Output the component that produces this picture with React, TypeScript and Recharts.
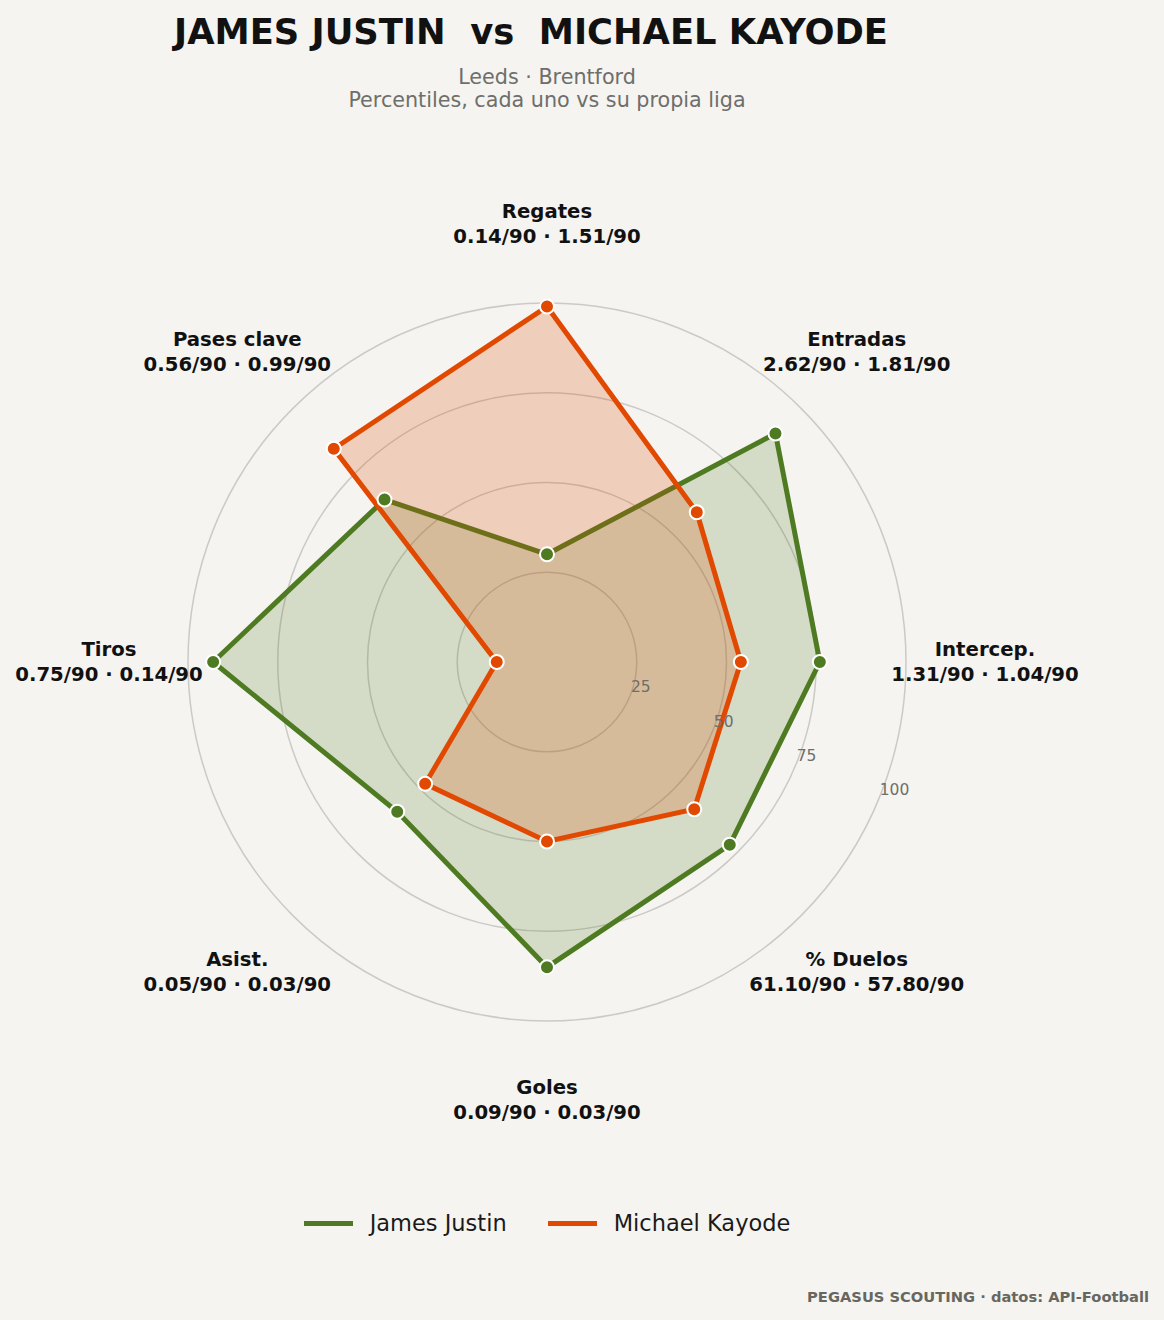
import React from "react";
import { RadarChart, Radar, PolarGrid, PolarAngleAxis, PolarRadiusAxis, Legend } from "recharts";

// Datos: percentiles y valores por 90'
const categories: string[] = ["Regates", "Entradas", "Intercep.", "% Duelos", "Goles", "Asist.", "Tiros", "Pases clave"];
const justinPct: number[] = [30, 90, 76, 72, 85, 59, 93, 64];
const kayodePct: number[] = [99, 59, 54, 58, 50, 48, 14, 84];
const justinPer90: string[] = ["0.14", "2.62", "1.31", "61.10", "0.09", "0.05", "0.75", "0.56"];
const kayodePer90: string[] = ["1.51", "1.81", "1.04", "57.80", "0.03", "0.03", "0.14", "0.99"];
const radiusTicks: number[] = [25, 50, 75, 100];

const GREEN = "#4e7a21";
const ORANGE = "#e14800";
const BG = "#f5f4f1";
const FONT = "'DejaVu Sans', sans-serif";

const W = 1164;
const H = 1320;
const CX = 547;
const CY = 662;
const R = 359;
const LABEL_R = 438;
const RAD = Math.PI / 180;

const data = categories.map((cat, i) => ({
  cat,
  justin: justinPct[i],
  kayode: kayodePct[i],
}));

const AngleTick = (props: any) => {
  const { payload } = props;
  const angle = payload.coordinate;
  const i = categories.indexOf(payload.value);
  const x = CX + LABEL_R * Math.cos(-angle * RAD);
  const y = CY + LABEL_R * Math.sin(-angle * RAD);
  return (
    <text x={x} y={y} textAnchor="middle" fontFamily={FONT} fontWeight="bold" fontSize={19.7} fill="#111">
      <tspan x={x} dy={-6}>{payload.value}</tspan>
      <tspan x={x} dy={25}>{`${justinPer90[i]}/90 · ${kayodePer90[i]}/90`}</tspan>
    </text>
  );
};

const RadiusTick = (props: any) => {
  const { x, y, payload } = props;
  if (!radiusTicks.includes(payload.value)) return <g />;
  return (
    <text x={x + 1} y={y - 4} textAnchor="start" fontFamily={FONT} fontSize={15.5} fill="#6e6e6a">
      {payload.value}
    </text>
  );
};

const LegendContent = () => (
  <div style={{ display: "flex", justifyContent: "center", alignItems: "center", fontFamily: FONT, fontSize: 22.5, color: "#1a1a1a" }}>
    {[
      { name: "James Justin", color: GREEN },
      { name: "Michael Kayode", color: ORANGE },
    ].map((e, i) => (
      <div key={i} style={{ display: "flex", alignItems: "center", marginLeft: i === 0 ? 0 : 41 }}>
        <span style={{ display: "inline-block", width: 49, height: 5, background: e.color, marginRight: 17 }} />
        <span>{e.name}</span>
      </div>
    ))}
  </div>
);

const App: React.FC = () => {
  return (
    <div style={{ position: "absolute", top: 0, left: 0, width: W, height: H, background: BG, overflow: "hidden" }}>
      <RadarChart width={W} height={H} data={data} cx={CX} cy={CY} outerRadius={R} startAngle={90} endAngle={-270} margin={{ top: 0, right: 0, bottom: 0, left: 0 }}>
        <PolarGrid gridType="circle" radialLines={false} stroke="#cccac5" strokeWidth={1.5} />
        <PolarAngleAxis dataKey="cat" tick={AngleTick} tickLine={false} axisLine={false} />
        <PolarRadiusAxis angle={-22.5} domain={[0, 100]} tickCount={5} tick={RadiusTick} tickLine={false} axisLine={false} />
        <Radar
          name="James Justin"
          dataKey="justin"
          stroke={GREEN}
          strokeWidth={5}
          fill={GREEN}
          fillOpacity={0.2}
          dot={{ r: 7, fill: GREEN, stroke: "#ffffff", strokeWidth: 2, fillOpacity: 1 }}
          isAnimationActive={false}
        />
        <Radar
          name="Michael Kayode"
          dataKey="kayode"
          stroke={ORANGE}
          strokeWidth={5}
          fill={ORANGE}
          fillOpacity={0.22}
          dot={{ r: 7, fill: ORANGE, stroke: "#ffffff", strokeWidth: 2, fillOpacity: 1 }}
          isAnimationActive={false}
        />
        <Legend content={<LegendContent />} wrapperStyle={{ position: "absolute", top: 1210, left: 0, width: 1094, height: 28 }} />
      </RadarChart>
      <svg width={W} height={H} style={{ position: "absolute", top: 0, left: 0, pointerEvents: "none" }}>
        <text x={531} y={44} textAnchor="middle" fontFamily={FONT} fontWeight="bold" fontSize={35.5} fill="#111" textLength={714} lengthAdjust="spacingAndGlyphs">
          JAMES JUSTIN{"\u00a0\u00a0"}vs{"\u00a0\u00a0"}MICHAEL KAYODE
        </text>
        <text x={547} y={84} textAnchor="middle" fontFamily={FONT} fontSize={20.7} fill="#6e6e6a">
          Leeds · Brentford
        </text>
        <text x={547} y={107} textAnchor="middle" fontFamily={FONT} fontSize={20.7} fill="#6e6e6a">
          Percentiles, cada uno vs su propia liga
        </text>
        <text x={1149} y={1302} textAnchor="end" fontFamily={FONT} fontWeight="bold" fontSize={14.7} fill="#67675f">
          PEGASUS SCOUTING · datos: API-Football
        </text>
      </svg>
    </div>
  );
};

export default App;
